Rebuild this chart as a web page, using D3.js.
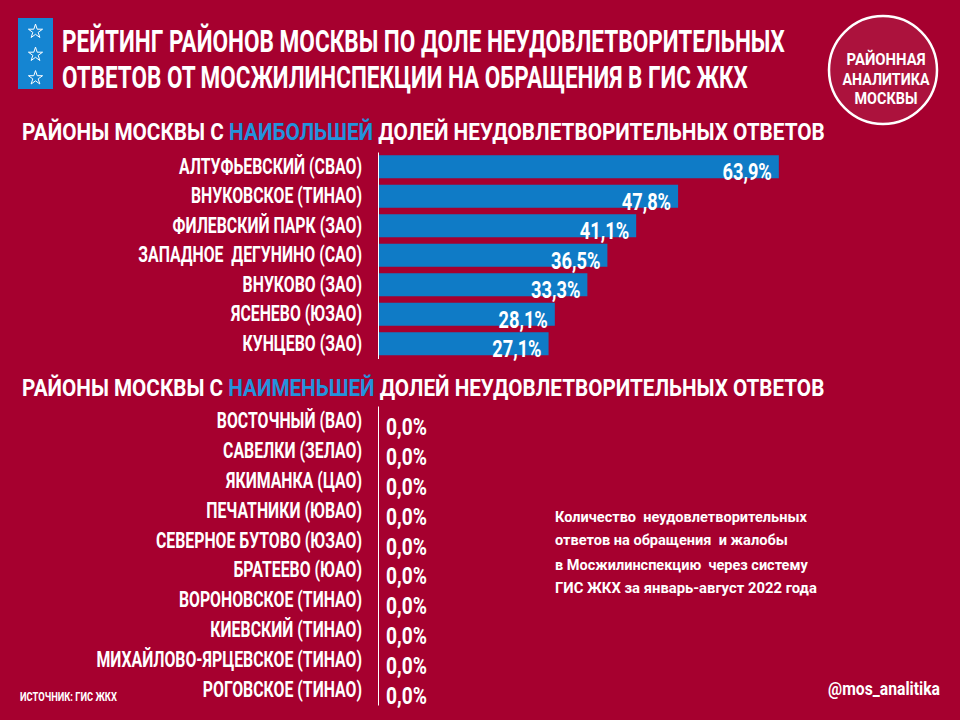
<!DOCTYPE html>
<html>
<head>
<meta charset="UTF-8" />
<title>Рейтинг районов Москвы</title>
<script src="https://cdn.jsdelivr.net/npm/d3@7"></script>
<style>
    body { margin: 0; background-color: #a6002f; }
    svg text {
        font-family: Roboto, "DejaVu Sans", sans-serif;
        font-weight: 700;
        fill: #fff;
        white-space: pre;
    }
</style>
</head>
<body>
<div id="chart"></div>
<script>
    // data
    var topNames = [
        "АЛТУФЬЕВСКИЙ (СВАО)",
        "ВНУКОВСКОЕ (ТИНАО)",
        "ФИЛЕВСКИЙ ПАРК (ЗАО)",
        "ЗАПАДНОЕ  ДЕГУНИНО (САО)",
        "ВНУКОВО (ЗАО)",
        "ЯСЕНЕВО (ЮЗАО)",
        "КУНЦЕВО (ЗАО)"
    ];
    var topValues = [63.9, 47.8, 41.1, 36.5, 33.3, 28.1, 27.1];

    var bottomNames = [
        "ВОСТОЧНЫЙ (ВАО)",
        "САВЕЛКИ (ЗЕЛАО)",
        "ЯКИМАНКА (ЦАО)",
        "ПЕЧАТНИКИ (ЮВАО)",
        "СЕВЕРНОЕ БУТОВО (ЮЗАО)",
        "БРАТЕЕВО (ЮАО)",
        "ВОРОНОВСКОЕ (ТИНАО)",
        "КИЕВСКИЙ (ТИНАО)",
        "МИХАЙЛОВО-ЯРЦЕВСКОЕ (ТИНАО)",
        "РОГОВСКОЕ (ТИНАО)"
    ];
    var bottomValues = [0, 0, 0, 0, 0, 0, 0, 0, 0, 0];

    var titleLines = [
        "РЕЙТИНГ РАЙОНОВ МОСКВЫ ПО ДОЛЕ НЕУДОВЛЕТВОРИТЕЛЬНЫХ",
        "ОТВЕТОВ ОТ МОСЖИЛИНСПЕКЦИИ НА ОБРАЩЕНИЯ В ГИС ЖКХ"
    ];
    var noteLines = [
        "Количество  неудовлетворительных",
        "ответов на обращения  и жалобы",
        "в Мосжилинспекцию  через систему",
        "ГИС ЖКХ за январь-август 2022 года"
    ];
    var logoLines = ["РАЙОННАЯ", "АНАЛИТИКА", "МОСКВЫ"];

    var w = 960, h = 720;
    var SX = 0.72;           // condensed look for labels
    var bg = "#a6002f", blue = "#0f7bc6", lightBlue = "#2492dc";

    var ru = d3.formatLocale({decimal: ",", thousands: " ", grouping: [3], currency: ["", ""]});
    var fmt = function(v) { return ru.format(".1f")(v) + "%"; };

    var svg = d3.select("#chart").append("svg")
        .attr("width", w)
        .attr("height", h);

    svg.append("rect").attr("width", w).attr("height", h).attr("fill", bg);

    // text placed at (x,y) and squeezed to a given width
    function fitText(x, y, str, size, width, anchor) {
        var g = svg.append("g");
        var t = g.append("text")
            .attr("text-anchor", anchor || "start")
            .style("font-size", size + "px")
            .text(str);
        var k = width / t.node().getComputedTextLength();
        g.attr("transform", "translate(" + x + "," + y + ") scale(" + k + ",1)");
        return t;
    }

    // header: stars box
    svg.append("rect")
        .attr("x", 18).attr("y", 18)
        .attr("width", 35).attr("height", 71)
        .attr("fill", "#1585d2");

    svg.selectAll(".star")
        .data([31.5, 54.5, 78])
        .enter().append("path")
        .attr("class", "star")
        .attr("transform", function(d) { return "translate(35.5," + d + ")"; })
        .attr("d", d3.symbol().type(d3.symbolStar).size(62))
        .attr("fill", "none")
        .attr("stroke", "#fff")
        .attr("stroke-width", 1);

    fitText(62, 52, titleLines[0], 31, 723);
    fitText(62, 88, titleLines[1], 31, 686);

    // logo
    svg.append("circle")
        .attr("cx", 883).attr("cy", 70).attr("r", 54)
        .attr("fill", "rgba(255,255,255,0.07)")
        .attr("stroke", "#fff")
        .attr("stroke-width", 2.5);
    fitText(886, 65, logoLines[0], 17, 79, "middle");
    fitText(886, 85, logoLines[1], 17, 87, "middle");
    fitText(886, 104, logoLines[2], 17, 63, "middle");

    // section headers
    function sectionHeader(y, word) {
        var t = fitText(22, y, "", 24, 1, "start");
        t.text(null);
        t.append("tspan").text("РАЙОНЫ МОСКВЫ С ");
        t.append("tspan").style("fill", lightBlue).text(word);
        t.append("tspan").text(" ДОЛЕЙ НЕУДОВЛЕТВОРИТЕЛЬНЫХ ОТВЕТОВ");
        var k = 803 / t.node().getComputedTextLength();
        d3.select(t.node().parentNode)
            .attr("transform", "translate(22," + y + ") scale(" + k + ",1)");
    }
    sectionHeader(140, "НАИБОЛЬШЕЙ");
    sectionHeader(396, "НАИМЕНЬШЕЙ");

    // scales
    var x = d3.scaleLinear().domain([0, 70]).range([379, 817]);

    var yTop = d3.scaleBand()
        .domain(topNames)
        .range([152, 358.5])
        .paddingInner(0.22)
        .paddingOuter(0.11);

    var yBottom = d3.scaleBand()
        .domain(bottomNames)
        .range([406, 705]);

    function styleAxis(g) {
        g.attr("font-family", null).attr("font-size", null);
        g.select(".domain").attr("stroke", "#fff").attr("stroke-width", 1);
        g.selectAll(".tick text")
            .style("font-size", "22px")
            .attr("x", -16 / SX)
            .attr("transform", "scale(" + SX + ",1)");
    }

    svg.append("g")
        .attr("transform", "translate(378,0)")
        .call(d3.axisLeft(yTop).tickSize(0).tickSizeOuter(0).tickPadding(16))
        .call(styleAxis);

    svg.append("g")
        .attr("transform", "translate(378,0)")
        .call(d3.axisLeft(yBottom).tickSize(0).tickSizeOuter(0).tickPadding(16))
        .call(styleAxis);

    var topData = topNames.map(function(n, i) { return {name: n, value: topValues[i]}; });
    var bottomData = bottomNames.map(function(n, i) { return {name: n, value: bottomValues[i]}; });

    svg.selectAll(".bar")
        .data(topData)
        .enter().append("rect")
        .attr("class", "bar")
        .attr("x", x(0))
        .attr("y", function(d) { return yTop(d.name); })
        .attr("width", function(d) { return x(d.value) - x(0); })
        .attr("height", yTop.bandwidth())
        .attr("fill", blue);

    svg.selectAll(".val")
        .data(topData)
        .enter().append("text")
        .attr("class", "val")
        .attr("text-anchor", "end")
        .style("font-size", "24px")
        .attr("transform", function(d) {
            return "translate(" + (x(d.value) - 7) + "," + (yTop(d.name) + yTop.bandwidth() + 2) + ") scale(0.76,1)";
        })
        .text(function(d) { return fmt(d.value); });

    svg.selectAll(".val0")
        .data(bottomData)
        .enter().append("text")
        .attr("class", "val0")
        .style("font-size", "24px")
        .attr("transform", function(d) {
            return "translate(" + (x(d.value) + 7) + "," + (yBottom(d.name) + yBottom.bandwidth() / 2 + 14) + ") scale(0.8,1)";
        })
        .text(function(d) { return fmt(d.value); });

    // note
    var noteW = [252, 233, 253, 262];
    var noteY = [522, 545, 570, 593];
    noteLines.forEach(function(s, i) { fitText(555, noteY[i], s, 15, noteW[i]); });

    fitText(20, 701, "ИСТОЧНИК: ГИС ЖКХ", 12, 97);
    fitText(940, 695, "@mos_analitika", 18, 112, "end");
</script>
</body>
</html>
